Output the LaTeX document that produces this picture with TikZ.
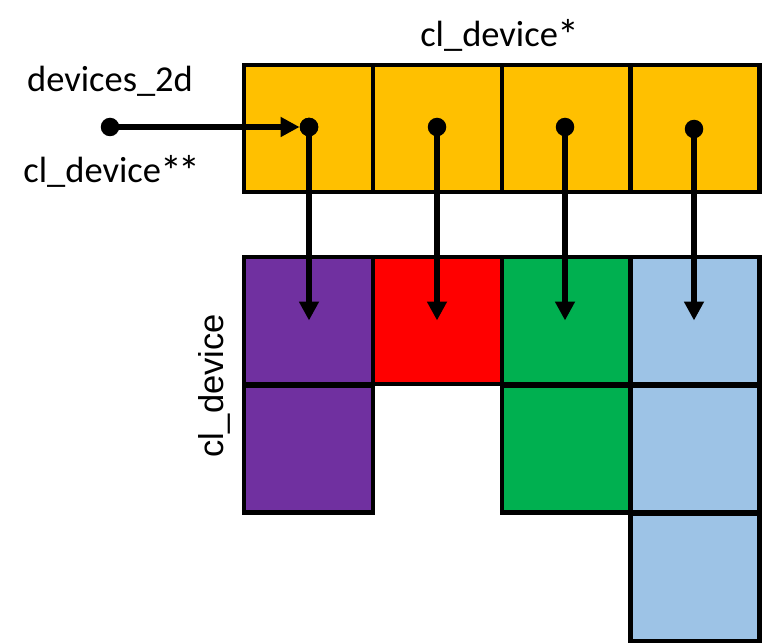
\documentclass[tikz,border=0pt]{standalone}
\usepackage{fontspec}
\usepackage{graphicx}
\setmainfont{Carlito}
\newfontfamily\arialfont{Liberation Sans}
\usetikzlibrary{arrows.meta}
\definecolor{cyellow}{HTML}{FFC000}
\definecolor{cpurple}{HTML}{7030A0}
\definecolor{cred}{HTML}{FF0000}
\definecolor{cgreen}{HTML}{00B050}
\definecolor{cblue}{HTML}{9DC3E6}
\newcommand{\bigast}{\raisebox{-4pt}{\scalebox{1.2}{*}}}
\begin{document}
\begin{tikzpicture}[x=1pt,y=-1pt,
  cell/.style={draw=black,line width=4.5pt,minimum width=129pt,minimum height=127pt,inner sep=0pt,outer sep=0pt},
  dotnode/.style={circle,fill=black,minimum size=18.5pt,inner sep=0pt},
  ptr/.style={line width=5.5pt,-{Triangle[length=19pt,width=19pt]}},
  lbl/.style={font=\fontsize{36.5}{40}\selectfont,inner sep=0pt,anchor=base}]
\useasboundingbox (0,0) rectangle (762,644);
% top row
\node[cell,fill=cyellow] (y1) at (308.5,128.5) {};
\node[cell,fill=cyellow] (y2) at (437.5,128.5) {};
\node[cell,fill=cyellow] (y3) at (566.5,128.5) {};
\node[cell,fill=cyellow] (y4) at (695,128.5) {};
% bottom grid
\node[cell,fill=cpurple] (p1) at (308.5,320.5) {};
\node[cell,fill=cpurple] (p2) at (308.5,449) {};
\node[cell,fill=cred] (r1) at (437.5,320.5) {};
\node[cell,fill=cgreen] (g1) at (566.5,320.5) {};
\node[cell,fill=cgreen] (g2) at (566.5,449) {};
\node[cell,fill=cblue] (b1) at (695,320.5) {};
\node[cell,fill=cblue] (b2) at (695,449) {};
\node[cell,fill=cblue] (b3) at (695,577.5) {};
% labels
\node[lbl] (t1) at (500,46.5) {cl\_device\bigast};
\node[lbl] (t2) at (110,91.5) {devices\_2d};
\node[lbl] (t3) at (112,183) {cl\_device\bigast\kern-4pt\bigast};
\node[font=\arialfont\fontsize{34.5}{38}\selectfont,rotate=90,inner sep=0pt] (t4) at (214,386) {cl\_device};
% dots
\node[dotnode] (d0) at (110,127) {};
\node[dotnode] (d1) at (309,127) {};
\node[dotnode] (d2) at (437,127) {};
\node[dotnode] (d3) at (565,127) {};
\node[dotnode] (d4) at (694,129) {};
% connectors
\draw[ptr] (d0.center) -- (d1.west);
\draw[ptr] (d1.center) -- (d1.center |- p1.center);
\draw[ptr] (d2.center) -- (d2.center |- r1.center);
\draw[ptr] (d3.center) -- (d3.center |- g1.center);
\draw[ptr] (d4.center) -- (d4.center |- b1.center);
\node[dotnode] at (d1) {};
\end{tikzpicture}
\end{document}
